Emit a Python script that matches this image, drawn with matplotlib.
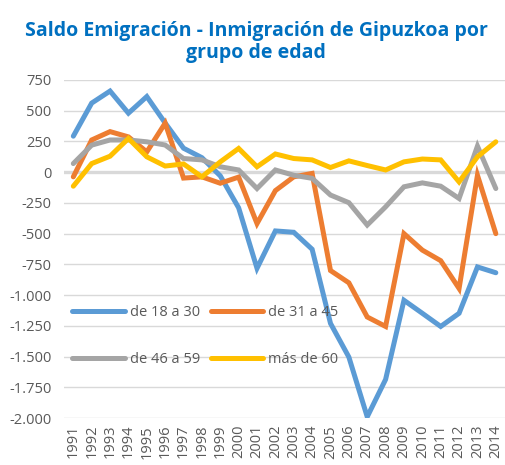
import numpy as np
import matplotlib
matplotlib.use("Agg")
import matplotlib.pyplot as plt

# Saldo migratorio de Gipuzkoa por grupo de edad
years = [str(y) for y in range(1991, 2015)]
de_18_a_30 = [293, 562, 660, 480, 615, 400, 195, 118, -30, -290, -782, -478, -489, -627,
              -1230, -1504, -1990, -1686, -1042, -1148, -1255, -1148, -771, -818]
de_31_a_45 = [-38, 262, 330, 287, 165, 399, -48, -38, -90, -40, -418, -150, -38, -10,
              -800, -900, -1178, -1255, -500, -634, -720, -946, -25, -500]
de_46_a_59 = [70, 220, 262, 262, 247, 221, 111, 100, 44, 18, -133, 18, -25, -50,
              -186, -248, -430, -282, -119, -87, -114, -214, 212, -133]
mas_de_60 = [-114, 70, 130, 274, 125, 50, 67, -38, 84, 193, 44, 148, 111, 100,
             38, 92, 54, 18, 84, 107, 100, -79, 125, 247]

yticks = np.arange(-2000, 751, 250)
ytick_labels = ['{:,}'.format(v).replace(',', '.') for v in yticks]

plt.rcParams['font.family'] = ['Open Sans', 'DejaVu Sans']

fig = plt.figure(figsize=(5.05, 4.65), dpi=100)
ax = fig.add_axes([0.127, 0.101, 0.873, 0.727])

x = np.arange(len(years))
style = dict(lw=3.6, solid_joinstyle='miter', solid_capstyle='round', zorder=3)
ax.plot(x, de_18_a_30, color='#5B9BD5', label='de 18 a 30', **style)
ax.plot(x, de_31_a_45, color='#ED7D31', label='de 31 a 45', **style)
ax.plot(x, de_46_a_59, color='#A5A5A5', label='de 46 a 59', **style)
ax.plot(x, mas_de_60, color='#FFC000', label='más de 60', **style)

# grid lines, the zero line is thicker
for v in yticks:
    ax.axhline(v, color='#D9D9D9', lw=2.4 if v == 0 else 1.0, zorder=1)

ax.set_xlim(-0.5, len(years) - 0.5)
ax.set_ylim(-2000, 750)
ax.set_yticks(yticks)
ax.set_yticklabels(ytick_labels)
ax.set_xticks(x)
ax.set_xticklabels(years, rotation=90)
ax.tick_params(axis='both', length=0, labelsize=10.5, colors='#595959')
ax.tick_params(axis='y', pad=9)
ax.tick_params(axis='x', pad=5)
for s in ax.spines.values():
    s.set_visible(False)

h, l = ax.get_legend_handles_labels()
order = [0, 2, 1, 3]
ax.legend([h[i] for i in order], [l[i] for i in order], ncol=2, frameon=False,
          loc='upper left', bbox_to_anchor=(0.018, 0.334), borderpad=0, borderaxespad=0,
          fontsize=10.5, labelcolor='#595959', handlelength=3.6, handletextpad=0.35,
          columnspacing=0.75, labelspacing=2.2)

fig.text(0.507, 0.955, 'Saldo Emigración - Inmigración de Gipuzkoa por\ngrupo de edad',
         ha='center', va='top', fontsize=14, fontweight='bold', color='#0070C0',
         linespacing=1.15)

fig.savefig('out.png', dpi=100)
